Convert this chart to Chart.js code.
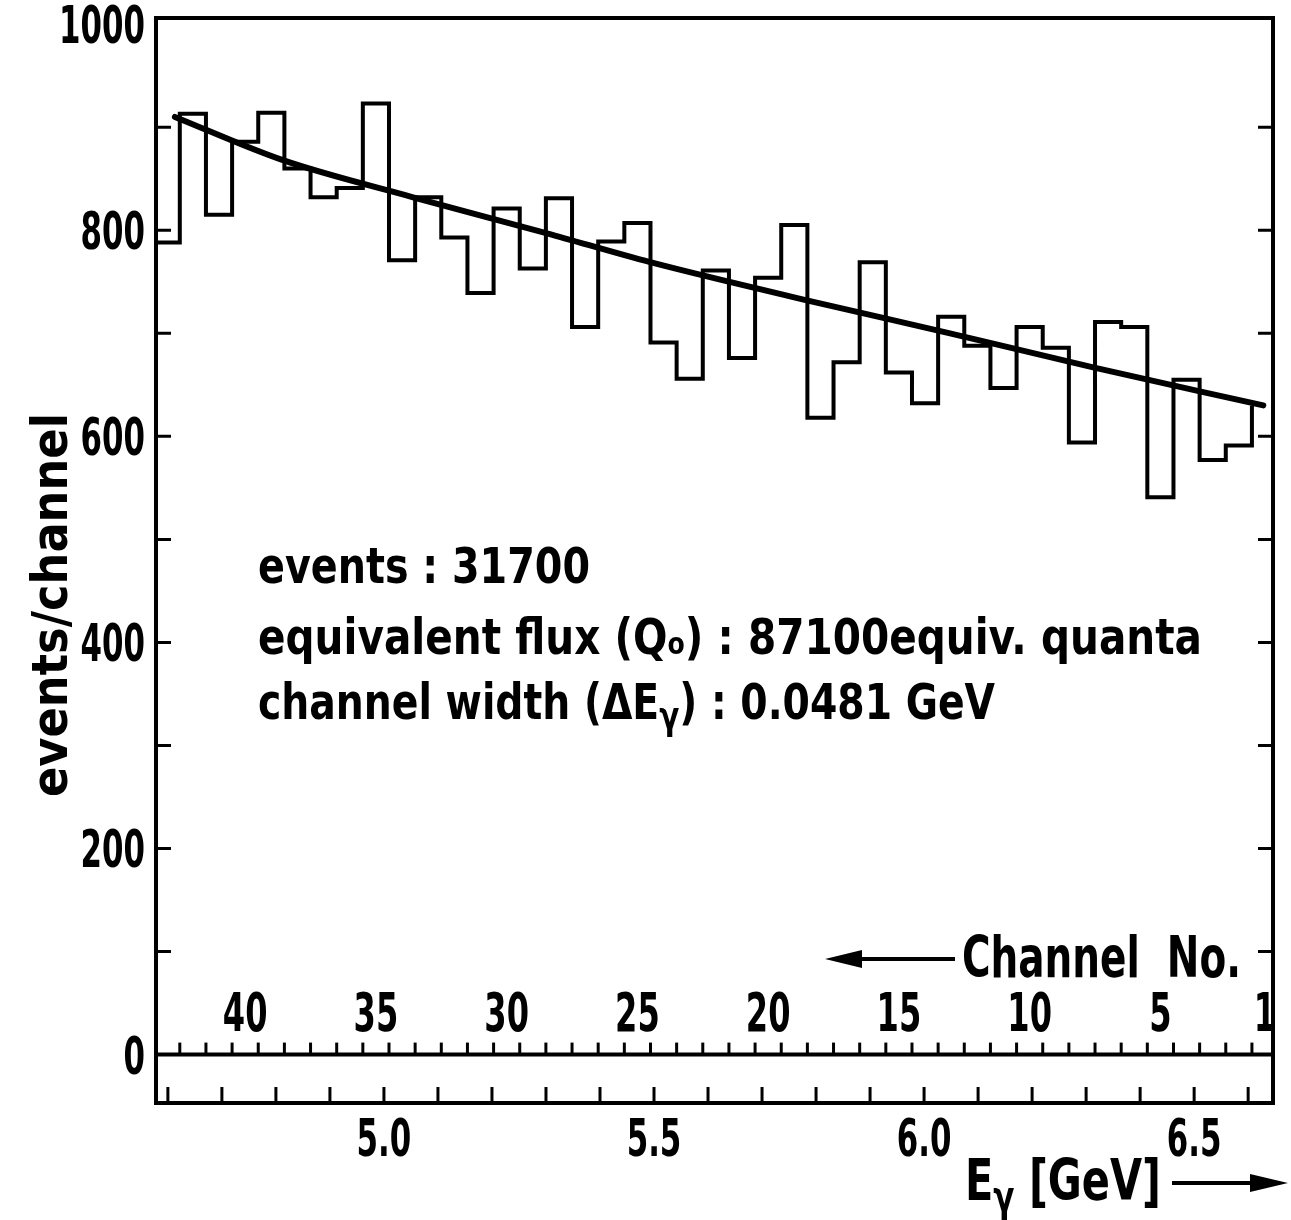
<!DOCTYPE html>
<html><head><meta charset="utf-8">
<script src="https://cdn.jsdelivr.net/npm/chart.js@4.4.1/dist/chart.umd.min.js"></script>
<style>html,body{margin:0;padding:0;background:#fff;}canvas{display:block;}</style>
</head><body>
<canvas id="c" width="1291" height="1220"></canvas>
<script>
// ---- data ----
const channels = [43,42,41,40,39,38,37,36,35,34,33,32,31,30,29,28,27,26,25,24,23,22,21,20,19,18,17,16,15,14,13,12,11,10,9,8,7,6,5,4,3,2];
const counts   = [788,913,815,886,914,860,832,841,923,771,832,793,739,821,763,831,706,789,807,691,656,761,676,754,805,618,672,769,662,632,716,688,647,706,686,594,711,706,541,655,577,591];
const fitEnergy = [4.613,4.813,5.054,5.302,5.493,5.783,6.048,6.313,6.628];
const fitCounts = [910,868,832,797,769,732,700,667,630];
const yTickLabels = [0,200,400,600,800,1000];
const energyTickLabels = [5.0,5.5,6.0,6.5];
const channelTickLabels = [40,35,30,25,20,15,10,5,1];

const FONT = '"DejaVu Sans Condensed","Liberation Sans Narrow",sans-serif';

// histogram outline built from bin data (bin edges at channel +/- 0.5)
const histPts = [];
channels.forEach((c,i)=>{ histPts.push({x:c+0.5,y:counts[i]}); histPts.push({x:c-0.5,y:counts[i]}); });
// closing edge of the last bin rises to the end of the fit curve
histPts.push({x:channels[channels.length-1]-0.5, y:fitCounts[fitCounts.length-1]});
const fitPts = fitEnergy.map((e,i)=>({x:e,y:fitCounts[i]}));

function drawRuns(ctx, runs, x, y, targetW, size, weight, sxFixed, align){
  let w=0;
  runs.forEach(r=>{ ctx.font = `${weight} ${size*(r.s||1)}px ${FONT}`; r.w = ctx.measureText(r.t).width; w+=r.w; });
  const sx = sxFixed || (targetW/w);
  const tw = w*sx;
  let x0 = x;
  if(align==='center') x0 = x - tw/2; else if(align==='right') x0 = x - tw;
  ctx.save(); ctx.translate(x0,y); ctx.scale(sx,1);
  ctx.textAlign='left'; ctx.textBaseline='alphabetic'; ctx.fillStyle='#000';
  let cx=0;
  runs.forEach(r=>{ ctx.font = `${weight} ${size*(r.s||1)}px ${FONT}`; ctx.fillText(r.t, cx, (r.dy||0)*size); cx+=r.w; });
  ctx.restore();
}

const NUM_SX = 0.66;

const decor = {
  id:'decor',
  afterDraw(chart){
    const ctx = chart.ctx, a = chart.chartArea;
    const X = chart.scales.x, XC = chart.scales.xc, Y = chart.scales.y;
    ctx.save();
    ctx.strokeStyle='#000'; ctx.fillStyle='#000'; ctx.lineCap='butt';
    // frame
    ctx.lineWidth=4; ctx.strokeRect(a.left, a.top, a.right-a.left, a.bottom-a.top);
    // y ticks (inward, both sides)
    ctx.lineWidth=3;
    for(let v=100; v<1000; v+=100){
      const py=Y.getPixelForValue(v);
      ctx.beginPath(); ctx.moveTo(a.left,py); ctx.lineTo(a.left+15,py);
      ctx.moveTo(a.right,py); ctx.lineTo(a.right-15,py); ctx.stroke();
    }
    // y tick labels
    Y.ticks.forEach(t=>{
      drawRuns(ctx,[{t:String(t.value)}],a.left-11,Y.getPixelForValue(t.value)+19,0,52,'bold',NUM_SX,'right');
    });
    // zero line with channel boundary ticks
    const y0=Y.getPixelForValue(0);
    ctx.lineWidth=4; ctx.beginPath(); ctx.moveTo(a.left,y0); ctx.lineTo(a.right,y0); ctx.stroke();
    ctx.lineWidth=3;
    for(let c=1;c<=42;c++){
      const px=XC.getPixelForValue(c+0.5);
      if(px<a.left||px>a.right) continue;
      ctx.beginPath(); ctx.moveTo(px,y0); ctx.lineTo(px,y0-12); ctx.stroke();
    }
    // energy ticks on bottom frame + labels
    for(let k=46;k<=66;k++){
      const px=X.getPixelForValue(k/10);
      if(px<a.left||px>a.right) continue;
      ctx.beginPath(); ctx.moveTo(px,a.bottom); ctx.lineTo(px,a.bottom-16); ctx.stroke();
    }
    X.ticks.forEach(t=>{
      drawRuns(ctx,[{t:Number(t.value).toFixed(1)}],X.getPixelForValue(t.value),a.bottom+53,0,52,'bold',NUM_SX,'center');
    });
    // channel labels
    channelTickLabels.forEach(c=>{
      drawRuns(ctx,[{t:String(c)}],XC.getPixelForValue(c),y0-24,0,54,'bold',NUM_SX,'center');
    });
    // annotation text
    drawRuns(ctx,[{t:'events : 31700'}],258,583,332,50,'bold');
    drawRuns(ctx,[{t:'equivalent flux (Q'},{t:'o',s:0.62},{t:') : 87100equiv. quanta'}],258,654,944,50,'bold');
    drawRuns(ctx,[{t:'channel width (\u0394E'},{t:'\u03b3',s:0.75,dy:0.2},{t:') : 0.0481 GeV'}],258,719,737,50,'bold');
    // Channel No. with arrow
    drawRuns(ctx,[{t:'Channel  No.'}],962,977,279,57,'bold');
    ctx.lineWidth=4; ctx.beginPath(); ctx.moveTo(858,959); ctx.lineTo(955,959); ctx.stroke();
    ctx.beginPath(); ctx.moveTo(825,959); ctx.lineTo(862,950); ctx.lineTo(862,968); ctx.closePath(); ctx.fill();
    // E_gamma [GeV] with arrow
    drawRuns(ctx,[{t:'E'},{t:'\u03b3',s:0.75,dy:0.2},{t:' [GeV]'}],965,1200,196,57,'bold');
    ctx.beginPath(); ctx.moveTo(1172,1183); ctx.lineTo(1255,1183); ctx.stroke();
    ctx.beginPath(); ctx.moveTo(1288,1183); ctx.lineTo(1250,1174); ctx.lineTo(1250,1192); ctx.closePath(); ctx.fill();
    // y-axis title
    ctx.save(); ctx.translate(67,797); ctx.rotate(-Math.PI/2);
    drawRuns(ctx,[{t:'events/channel'}],0,0,384,50,'bold');
    ctx.restore();
    ctx.restore();
  }
};

function zeroPad(s){ s.paddingTop=0; s.paddingBottom=0; s.paddingLeft=0; s.paddingRight=0; }

new Chart(document.getElementById('c'),{
  type:'line',
  data:{datasets:[
    {label:'events/channel',data:histPts,xAxisID:'xc',yAxisID:'y',borderColor:'#000',borderWidth:4,pointRadius:0,tension:0,fill:false,borderJoinStyle:'miter'},
    {label:'fit',data:fitPts,xAxisID:'x',yAxisID:'y',borderColor:'#000',borderWidth:6,pointRadius:0,cubicInterpolationMode:'monotone',fill:false,borderCapStyle:'round'}
  ]},
  options:{
    responsive:false, animation:false, devicePixelRatio:1,
    layout:{padding:{top:18,right:18,left:0,bottom:0},autoPadding:false},
    plugins:{legend:{display:false},tooltip:{enabled:false}},
    scales:{
      x:{type:'linear',position:'bottom',min:4.578,max:6.646,
         grid:{display:false,drawTicks:false},border:{display:false},
         afterBuildTicks:s=>{s.ticks=energyTickLabels.map(v=>({value:v}));},
         afterFit:s=>{s.height=117; zeroPad(s);},
         ticks:{display:false,autoSkip:false}},
      xc:{type:'linear',display:false,reverse:true,min:0.694,max:43.41},
      y:{type:'linear',position:'left',min:-47,max:1006,
         grid:{display:false,drawTicks:false},border:{display:false},
         afterBuildTicks:s=>{s.ticks=yTickLabels.map(v=>({value:v}));},
         afterFit:s=>{s.width=156; zeroPad(s);},
         ticks:{display:false,autoSkip:false}}
    }
  },
  plugins:[decor]
});
</script>
</body></html>
